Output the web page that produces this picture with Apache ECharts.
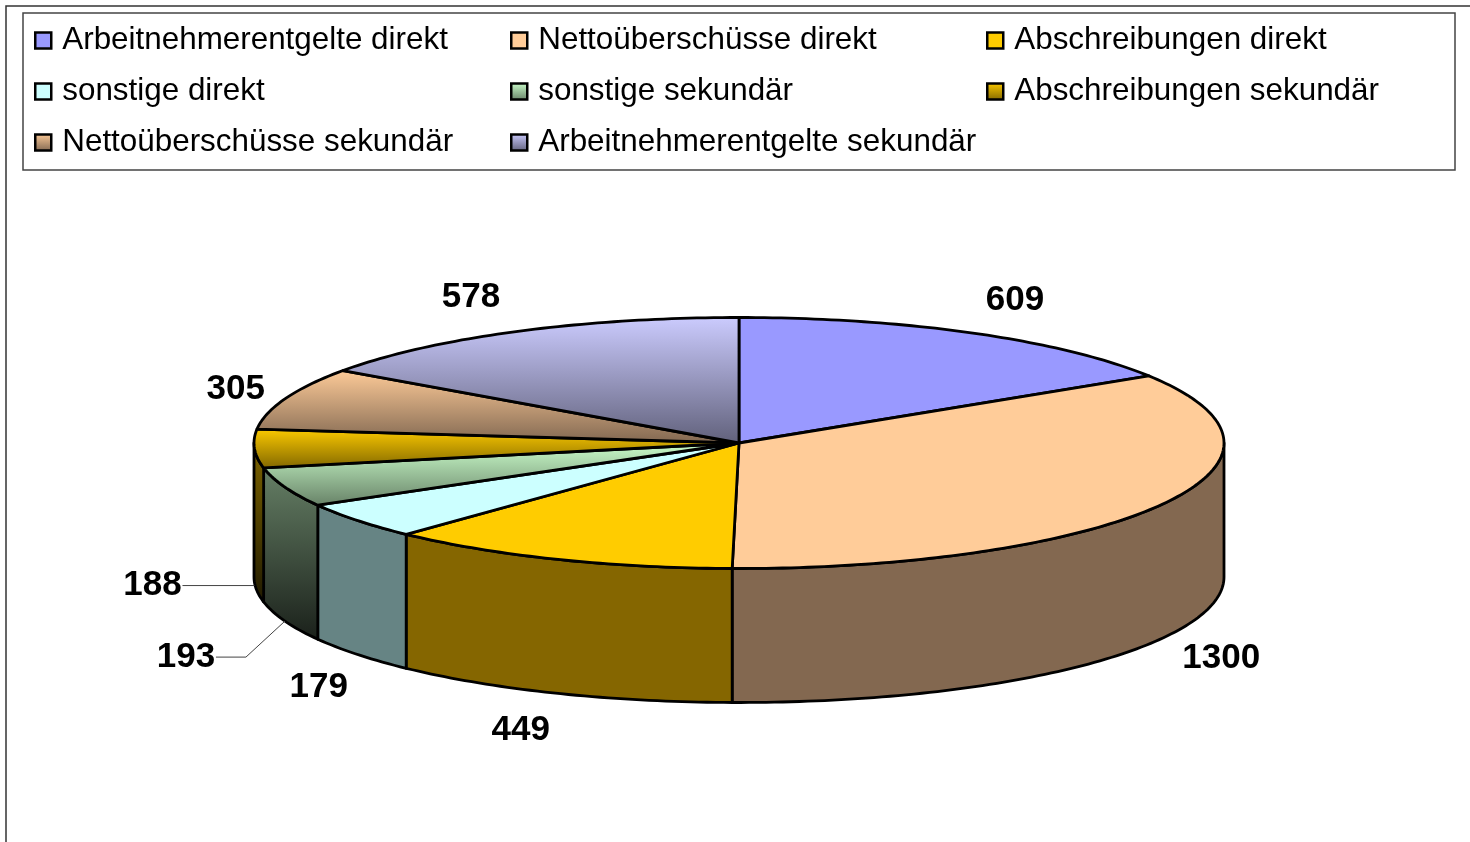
<!DOCTYPE html>
<html>
<head>
<meta charset="utf-8">
<style>
    html, body { margin: 0; padding: 0; background: #fff; }
    #chart { width: 1470px; height: 842px; }
</style>
<script src="https://cdn.jsdelivr.net/npm/echarts@6/dist/echarts.min.js"></script>
</head>
<body>
<div id="chart"></div>
<script>
    var sliceNames = ['Arbeitnehmerentgelte direkt', 'Nettoüberschüsse direkt', 'Abschreibungen direkt', 'sonstige direkt',
        'sonstige sekundär', 'Abschreibungen sekundär', 'Nettoüberschüsse sekundär', 'Arbeitnehmerentgelte sekundär'];
    var sliceValues = [609, 1300, 449, 179, 193, 188, 305, 578];
    var topColors = ['#9999ff', '#ffcc99', '#ffcc00', '#ccffff', '#ccffcc', '#ffcc00', '#ffcc99', '#ccccff'];
    var wallColors = ['#666699', '#836850', '#856600', '#668484', '#668066', '#806600', '#806650', '#666680'];
    // the "sekundär" slices fade towards a darker colour
    var topFade = [null, null, null, null, '#668066', '#806600', '#7f6650', '#60607a'];
    var wallFade = [null, null, null, null, '#1a201a', '#201a00', '#201a14', '#1a1a20'];

    // legend columns, top to bottom
    var legendColumns = [
        ['Arbeitnehmerentgelte direkt', 'sonstige direkt', 'Nettoüberschüsse sekundär'],
        ['Nettoüberschüsse direkt', 'sonstige sekundär', 'Arbeitnehmerentgelte sekundär'],
        ['Abschreibungen direkt', 'Abschreibungen sekundär']
    ];
    var legendLefts = [34, 510, 986];

    // pie geometry
    var cx = 739, cy = 443, rx = 485, ry = 125.5, depth = 134;
    // label centre, relative to the rim point at the middle of the slice
    var labelOffsets = [[42, -33], [59, 154], [-36, 171], [-39, 167], [-99, 170], [-102, 137], [-50, -9], [-45, -34]];

    var total = 0;
    for (var i = 0; i < sliceValues.length; i++) {
        total += sliceValues[i];
    }

    function rimPoint(deg, drop) {
        var a = deg * Math.PI / 180;
        return [cx + rx * Math.sin(a), cy - ry * Math.cos(a) + (drop || 0)];
    }

    function arcPoints(from, to, drop) {
        var pts = [];
        var steps = Math.max(2, Math.ceil(Math.abs(to - from)));
        for (var s = 0; s <= steps; s++) {
            pts.push(rimPoint(from + (to - from) * s / steps, drop));
        }
        return pts;
    }

    function fill(color, fade) {
        if (!fade) return color;
        return new echarts.graphic.LinearGradient(0, 0, 0, 1, [
            {offset: 0, color: color},
            {offset: 1, color: fade}
        ]);
    }

    function renderSlice(params, api) {
        var idx = params.seriesIndex;
        var start = api.value(0) / total * 360;
        var end = start + api.value(1) / total * 360;
        var edge = {stroke: '#000', lineWidth: 2.8, lineJoin: 'round'};
        var children = [];

        // side wall, only the part facing the viewer
        var a1 = Math.max(start, 90), a2 = Math.min(end, 270);
        if (a2 > a1) {
            var wall = arcPoints(a1, a2, 0).concat(arcPoints(a2, a1, depth));
            children.push({
                type: 'polygon',
                shape: {points: wall},
                style: Object.assign({fill: fill(wallColors[idx], wallFade[idx])}, edge)
            });
        }

        // top face
        children.push({
            type: 'polygon',
            shape: {points: [[cx, cy]].concat(arcPoints(start, end, 0))},
            style: Object.assign({fill: fill(topColors[idx], topFade[idx])}, edge)
        });

        // value label
        var mid = (start + end) / 2;
        var rim = rimPoint(mid, 0);
        var off = labelOffsets[idx];
        var lx = rim[0] + off[0], ly = rim[1] + off[1];
        children.push({
            type: 'text',
            x: lx,
            y: ly,
            style: {
                text: String(api.value(1)),
                fontFamily: 'Liberation Sans',
                fontWeight: 'bold',
                fontSize: 35,
                fill: '#000',
                align: 'center',
                verticalAlign: 'middle'
            }
        });

        // leader lines of the two narrow slices on the left
        if (idx === 4 || idx === 5) {
            var foot = rimPoint(mid, depth);
            var from = [lx + 30, ly];
            var line = idx === 4 ? [from, [foot[0] - 39, ly], foot] : [from, [foot[0], ly]];
            children.push({
                type: 'polyline',
                shape: {points: line},
                style: {stroke: '#444', lineWidth: 1, fill: null}
            });
        }
        return {type: 'group', children: children};
    }

    var seriesList = [];
    var before = 0;
    for (var k = 0; k < sliceNames.length; k++) {
        seriesList.push({
            type: 'custom',
            name: sliceNames[k],
            coordinateSystem: 'none',
            silent: true,
            animation: false,
            itemStyle: {color: topColors[k]},
            renderItem: renderSlice,
            data: [[before, sliceValues[k]]]
        });
        before += sliceValues[k];
    }

    function legendItem(name) {
        var n = sliceNames.indexOf(name);
        return {
            name: name,
            icon: 'rect',
            itemStyle: {color: fill(topColors[n], topFade[n]), borderColor: '#000', borderWidth: 2.5}
        };
    }

    var legends = [];
    for (var c = 0; c < legendColumns.length; c++) {
        legends.push({
            orient: 'vertical',
            left: legendLefts[c],
            top: 25,
            padding: 0,
            itemWidth: 16,
            itemHeight: 16,
            itemGap: 20,
            selectedMode: false,
            data: legendColumns[c].map(legendItem),
            textStyle: {
                fontFamily: 'Liberation Sans',
                fontSize: 31.4,
                color: '#000',
                padding: [0, 0, 0, 6]
            }
        });
    }

    var chart = echarts.init(document.getElementById('chart'));
    chart.setOption({
        backgroundColor: '#fff',
        animation: false,
        legend: legends,
        graphic: [
            {type: 'polyline', shape: {points: [[6, 842], [6, 6], [1470, 6]]}, style: {stroke: '#333', lineWidth: 1.5, fill: null}},
            {type: 'rect', shape: {x: 23, y: 13, width: 1432, height: 157}, style: {stroke: '#444', lineWidth: 1.5, fill: null}}
        ],
        series: seriesList
    });
</script>
</body>
</html>
